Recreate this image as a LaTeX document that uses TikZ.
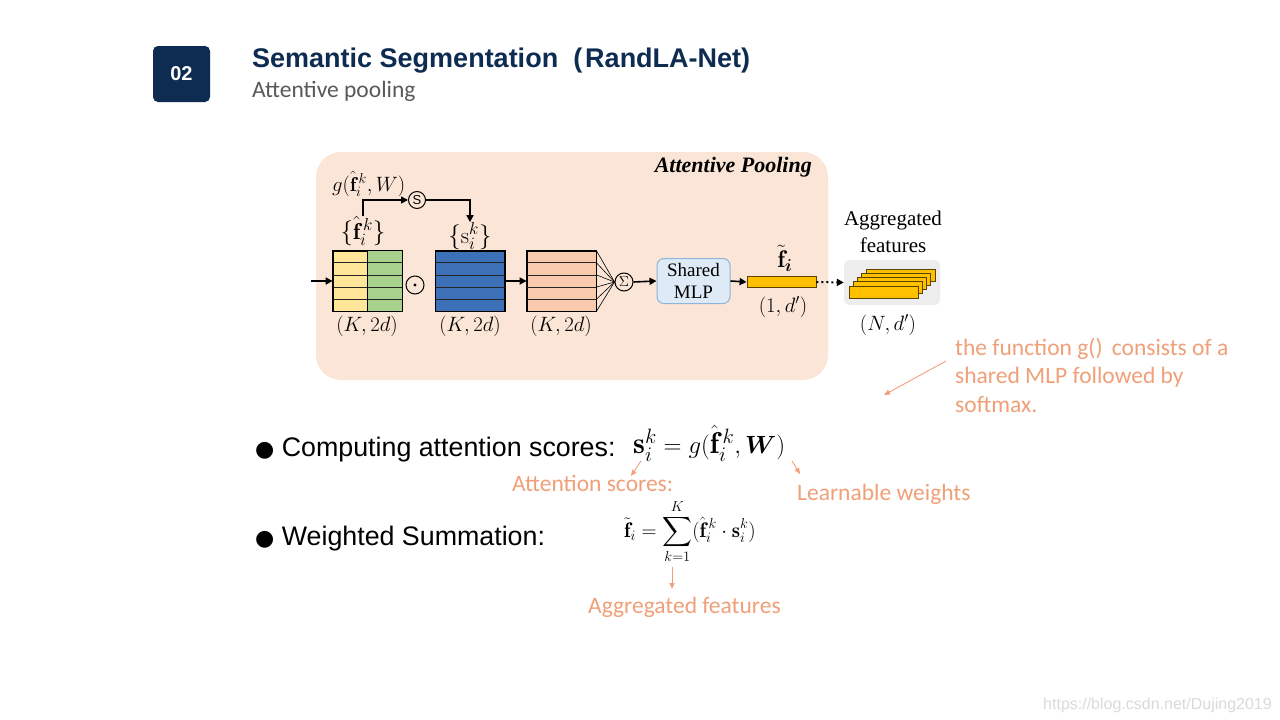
\documentclass[tikz,border=0pt]{standalone}
\usepackage{amsmath}
\usepackage{fontspec}
\newfontfamily\arialf{Liberation Sans}
\newfontfamily\calibf{Carlito}
\newfontfamily\timesf{Liberation Serif}
\newfontfamily\dejavuf{DejaVu Sans}
\usetikzlibrary{arrows.meta,calc}
\definecolor{navy}{HTML}{0E2B52}
\definecolor{subgray}{HTML}{595959}
\definecolor{peachbg}{HTML}{FBE5D6}
\definecolor{yel}{HTML}{FFE699}
\definecolor{grn}{HTML}{A9D18E}
\definecolor{blu}{HTML}{3C71B8}
\definecolor{pch}{HTML}{F8CBAD}
\definecolor{mlpfill}{HTML}{DEEBF7}
\definecolor{mlpdraw}{HTML}{8FB4DB}
\definecolor{gold}{HTML}{FFC000}
\definecolor{goldedge}{HTML}{5A4300}
\definecolor{agggray}{HTML}{EDEDED}
\definecolor{notec}{HTML}{F0A078}
\definecolor{wm}{HTML}{DADADA}
\newcommand{\fhk}{{\hat{\mathbf f}}_{i}^{\mkern3mu k}}
\begin{document}
\begin{tikzpicture}[x=1pt,y=-1pt,
  mat/.style={draw=black, line width=0.8pt, minimum width=69pt, minimum height=60pt, inner sep=0},
  rowline/.style={draw=black!85, line width=0.8pt},
  arr/.style={-{Triangle[length=7pt,width=7pt]}, line width=1.6pt},
  dotarr/.style={-{Triangle[length=7pt,width=7pt]}, line width=2pt, dash pattern=on 2pt off 3pt},
  opcirc/.style={circle, draw, line width=1pt, minimum size=18pt, inner sep=0},
  dimlbl/.style={inner sep=0, font=\fontsize{20}{22}\selectfont},
  bulletf/.style={anchor=base west, inner sep=0, font=\arialf\fontsize{26.8}{30}\selectfont},
  note/.style={text=notec, inner sep=0, font=\calibf\fontsize{23.5}{28.5}\selectfont},
  notearr/.style={draw=notec, line width=0.9pt, -{Triangle[length=6pt,width=5pt]}},
  goldbar/.style={draw=goldedge, fill=gold, line width=0.8pt}
]
\useasboundingbox (0,0) rectangle (1280,720);
\fill[white] (0,0) rectangle (1280,720);

% header
\node[fill=navy, rounded corners=5pt, minimum width=57pt, minimum height=56pt, text=white,
      font=\arialf\bfseries\fontsize{20}{24}\selectfont] (num) at (181.5,74) {02};
\node[anchor=base west, inner sep=0, text=navy, font=\arialf\bfseries\fontsize{27}{30}\selectfont]
      (title) at (252,67) {Semantic Segmentation\hspace{15pt}(\hspace{3pt}RandLA-Net)};
\node[anchor=base west, inner sep=0, text=subgray, font=\calibf\fontsize{23.5}{27}\selectfont]
      (sub) at (252,97) {Attentive pooling};

% panel
\node[fill=peachbg, rounded corners=25pt, minimum width=512pt, minimum height=228pt, inner sep=0]
      (panel) at (572,266) {};
\node[anchor=east, inner sep=0, font=\timesf\bfseries\itshape\fontsize{22}{26}\selectfont]
      (aptitle) at (812,167) {Attentive Pooling};

% matrices
\node[mat, fill=yel] (m1) at (367.5,281) {};
\fill[grn] (m1.north) rectangle (m1.south east);
\node[mat, fill=blu] (m2) at (470,281) {};
\node[mat, fill=pch] (m3) at (561.5,281) {};
\foreach \m in {m1,m2,m3} {
  \foreach \k in {1,...,4}
    \draw[rowline] ($(\m.north west)!\k/5!(\m.south west)$) -- ($(\m.north east)!\k/5!(\m.south east)$);
  \draw[line width=0.8pt] (\m.north west) rectangle (\m.south east);
}
\draw[line width=0.8pt] (m1.north) -- (m1.south);

\node[dimlbl] (d1) at (367,326) {$(K,2d)$};
\node[dimlbl] (d2) at (470,326) {$(K,2d)$};
\node[dimlbl] (d3) at (561,326) {$(K,2d)$};

% labels above
\node[anchor=base west, inner sep=0, font=\fontsize{20}{22}\selectfont] (glbl) at (332,191) {$g(\fhk,W)$};
\node[inner sep=0, font=\fontsize{23}{25}\selectfont] (flbl) at (363,231) {$\{\fhk\}$};
\node[inner sep=0, font=\fontsize{23}{25}\selectfont] (slbl) at (470,236) {$\{\mathrm s_i^k\}$};
\node[circle, draw, line width=1pt, minimum size=17pt, inner sep=0, font=\arialf\fontsize{13}{13}\selectfont]
      (S) at (417,200) {S};
\draw[arr] (flbl.north) |- (S.west);
\draw[arr] (S.east) -| (slbl.north);

% input and operators
\coordinate (in) at (311,281);
\draw[arr] (in) -- (m1.west);
\node[opcirc] (odot) at (415,285) {};
\fill (odot.center) circle (1.7);
\draw[arr] (m2.east) -- (m3.west);
\node[opcirc, font=\fontsize{14}{14}\selectfont] (sig) at (624,282) {$\Sigma$};
\foreach \k in {0,...,5}
  \draw[line width=0.6pt] ($(m3.north east)!\k/5!(m3.south east)$) -- (sig.west);

\node[draw=mlpdraw, fill=mlpfill, line width=1pt, rounded corners=7pt, minimum width=73pt, minimum height=45pt,
      inner sep=0, align=center, font=\timesf\fontsize{19}{22}\selectfont] (mlp) at (693.5,281) {Shared\\MLP};
\draw[arr] (sig.east) -- (mlp.west);
\node[goldbar, minimum width=69pt, minimum height=11pt, inner sep=0] (bar) at (781.5,282) {};
\draw[arr] (mlp.east) -- (bar.west);
\node[inner sep=0, font=\fontsize{24}{26}\selectfont] (ft) at (785,258) {${\tilde{\mathbf f}}_{\boldsymbol i}$};
\node[dimlbl] (d4) at (783,307) {$(1,d')$};

% aggregated
\node[fill=agggray, rounded corners=6pt, minimum width=96pt, minimum height=45pt, inner sep=0] (agg) at (892,282.5) {};
\foreach \k in {4,...,0}
  \draw[goldbar] (849+4.25*\k, 286-4.25*\k) rectangle ++(69,12);
\draw[dotarr] (bar.east) -- (agg.west);
\node[inner sep=0, align=center, font=\timesf\fontsize{21}{27}\selectfont] (aggl) at (893,232) {Aggregated\\features};
\node[dimlbl] (d5) at (888,325) {$(N,d')$};

% note
\node[note, anchor=north west, align=left] (gnote) at (955,338)
  {the function g()\, consists of a\\shared MLP followed by\\softmax.};
\coordinate (gs) at (946,361);
\coordinate (ge) at (884,395);
\draw[notearr] (gs) -- (ge);

% bullets
\node[bulletf] (b1) at (255,456) {{\dejavuf\fontsize{22}{26}\selectfont ●} Computing attention scores:};
\node[anchor=base west, inner sep=0, font=\fontsize{30}{34}\selectfont] (eq1) at (633,453)
  {$\mathbf{s}_i^k = g(\fhk, \boldsymbol{W})$};
\node[bulletf] (b2) at (255,545) {{\dejavuf\fontsize{22}{26}\selectfont ●} Weighted Summation:};
\node[anchor=base west, inner sep=0, font=\fontsize{21}{24}\selectfont] (eq2) at (624,537)
  {$\displaystyle {\tilde{\mathbf f}}_i=\sum_{k=1}^{K}(\fhk\cdot\mathbf s_i^k)$};

\node[note, anchor=base west] (attn) at (512,491) {Attention scores:};
\node[note, anchor=base west] (learn) at (797,500) {Learnable weights};
\node[note, anchor=base west] (aggf) at (588,613) {Aggregated features};
\coordinate (a1s) at (641,461); \coordinate (a1e) at (631,476);
\coordinate (a2s) at (792,461); \coordinate (a2e) at (800,474);
\coordinate (a3s) at (672,567); \coordinate (a3e) at (672,589);
\draw[notearr] (a1s) -- (a1e);
\draw[notearr] (a2s) -- (a2e);
\draw[notearr] (a3s) -- (a3e);

% watermark
\node[anchor=base west, inner sep=0, text=wm, font=\arialf\fontsize{16}{18}\selectfont] (wmk) at (1043,709)
  {https://blog.csdn.net/Dujing2019};
\end{tikzpicture}
\end{document}
